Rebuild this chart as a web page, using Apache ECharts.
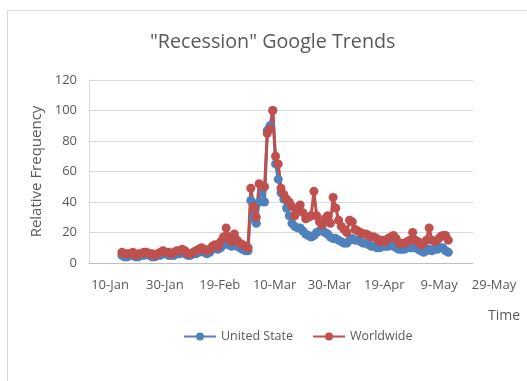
<!DOCTYPE html>
<html>
<head>
<meta charset="utf-8">
<script src="https://cdn.jsdelivr.net/npm/echarts@6/dist/echarts.min.js"></script>
<style>
  html, body { margin: 0; padding: 0; background: #ffffff; }
  #chart { width: 527px; height: 381px; }
</style>
</head>
<body>
<div id="chart"></div>
<script>
// Axis tick labels, one every 20 days
const dateTicks = ['10-Jan', '30-Jan', '19-Feb', '10-Mar', '30-Mar', '19-Apr', '9-May', '29-May'];
const tickStep = 20;

// Daily values start this many days after the first tick
const firstDay = 12;

// Daily relative search interest, United States
const usValues = [
  5, 4, 4, 5, 5, 4, 4, 5, 5, 6,
  5, 4, 4, 5, 5, 6, 6, 5, 5, 5,
  6, 6, 7, 6, 5, 5, 6, 6, 7, 8,
  7, 6, 7, 9, 10, 9, 10, 12, 16, 12,
  11, 13, 11, 10, 9, 8, 8, 41, 29, 26,
  40, 48, 40, 87, 90, 100, 65, 55, 46, 42,
  36, 31, 26, 24, 23, 23, 21, 19, 18, 17,
  18, 20, 21, 22, 20, 19, 17, 16, 16, 15,
  14, 13, 13, 15, 16, 15, 15, 14, 13, 13,
  12, 11, 11, 10, 10, 11, 11, 11, 12, 11,
  10, 9, 9, 9, 10, 10, 10, 11, 9, 8,
  7, 8, 9, 8, 9, 9, 10, 10, 8, 7
];

// Daily relative search interest, worldwide
const wwValues = [
  7, 6, 6, 6, 7, 5, 6, 6, 7, 7,
  6, 6, 5, 6, 7, 8, 7, 7, 6, 7,
  8, 8, 9, 8, 6, 6, 7, 8, 9, 10,
  9, 8, 9, 11, 12, 11, 14, 17, 23, 17,
  14, 19, 15, 13, 12, 11, 10, 49, 37, 30,
  52, 50, 50, 85, 88, 100, 70, 65, 49, 45,
  42, 40, 37, 31, 34, 38, 33, 29, 30, 31,
  47, 31, 27, 25, 29, 31, 26, 43, 36, 28,
  24, 22, 20, 28, 27, 22, 21, 20, 19, 19,
  18, 17, 17, 16, 14, 15, 14, 16, 17, 18,
  16, 13, 13, 13, 14, 15, 20, 15, 14, 12,
  13, 15, 23, 15, 14, 15, 17, 18, 18, 15
];

const toPoints = vals => vals.map((v, i) => [firstDay + i, v]);

const font = 'Open Sans';
const textColor = '#595959';

const chart = echarts.init(document.getElementById('chart'), null, { renderer: 'canvas' });

chart.setOption({
  animation: false,
  backgroundColor: '#ffffff',
  textStyle: { fontFamily: font },
  title: {
    text: '"Recession" Google Trends',
    left: 145,
    top: 27,
    textStyle: { fontFamily: font, fontSize: 19.7, fontWeight: 'normal', color: textColor }
  },
  graphic: [
    {
      type: 'rect',
      shape: { x: 7.5, y: 10.5, width: 700, height: 600 },
      style: { fill: 'none', stroke: '#d9d9d9', lineWidth: 1 },
      silent: true
    },
    {
      type: 'text',
      left: 488,
      top: 309,
      style: { text: 'Time', fontFamily: font, fontSize: 14, fill: textColor }
    }
  ],
  legend: {
    left: 178,
    top: 325,
    itemWidth: 32,
    itemHeight: 10,
    itemGap: 19,
    textStyle: { fontFamily: font, fontSize: 12.5, color: textColor },
    data: ['United State', 'Worldwide']
  },
  grid: { left: 89, right: 54, top: 80, bottom: 118 },
  xAxis: {
    type: 'value',
    min: 0,
    max: tickStep * (dateTicks.length - 1),
    interval: tickStep,
    axisLine: { show: true, lineStyle: { color: '#bfbfbf', width: 1 } },
    axisTick: { show: false },
    splitLine: { show: false },
    axisLabel: {
      showMinLabel: true,
      showMaxLabel: true,
      margin: 16,
      padding: [0, 0, 0, 42],
      fontFamily: font,
      fontSize: 13,
      color: textColor,
      formatter: v => dateTicks[Math.round(v / tickStep)]
    }
  },
  yAxis: {
    type: 'value',
    min: 0,
    max: 120,
    interval: 20,
    name: 'Relative Frequency',
    nameLocation: 'middle',
    nameRotate: 90,
    nameGap: 44,
    nameTextStyle: { fontFamily: font, fontSize: 15, color: textColor },
    axisLine: { show: true, lineStyle: { color: '#d9d9d9', width: 1 } },
    axisTick: { show: false },
    splitLine: { show: true, lineStyle: { color: '#d9d9d9', width: 1 } },
    axisLabel: { margin: 12, fontFamily: font, fontSize: 13, color: textColor }
  },
  series: [
    {
      name: 'United State',
      type: 'line',
      data: toPoints(usValues),
      symbol: 'circle',
      symbolSize: 9,
      showSymbol: true,
      showAllSymbol: true,
      color: '#4f81bd',
      itemStyle: { color: '#4f81bd' },
      lineStyle: { color: '#4f81bd', width: 3 }
    },
    {
      name: 'Worldwide',
      type: 'line',
      data: toPoints(wwValues),
      symbol: 'circle',
      symbolSize: 9,
      showSymbol: true,
      showAllSymbol: true,
      color: '#c0504d',
      itemStyle: { color: '#c0504d' },
      lineStyle: { color: '#c0504d', width: 3 }
    }
  ]
});
</script>
</body>
</html>
